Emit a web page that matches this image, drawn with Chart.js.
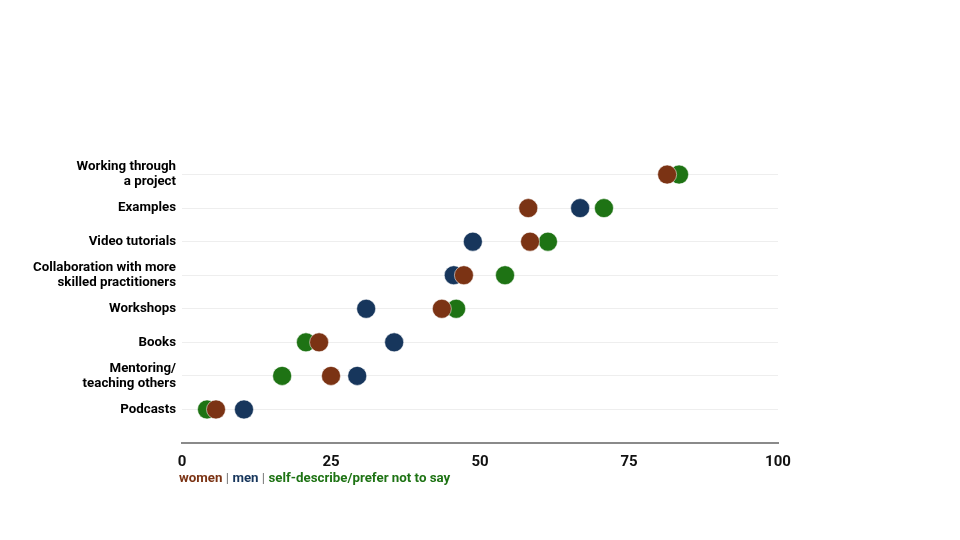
<!DOCTYPE html>
<html>
<head>
<meta charset="utf-8">
<script src="https://cdn.jsdelivr.net/npm/chart.js@4.4.1/dist/chart.umd.min.js"></script>
<style>
  html, body { margin: 0; padding: 0; background: #fff; }
  #wrap { position: relative; width: 960px; height: 540px; }
  #legend {
    position: absolute; left: 179px; top: 470px;
    font: bold 13.3px Roboto, sans-serif; color: #888;
  }
  #legend .w { color: #7b3314; }
  #legend .m { color: #17365c; }
  #legend .s { color: #1e7314; }
</style>
</head>
<body>
<div id="wrap">
  <canvas id="grafico" width="960" height="540"></canvas>
  <div id="legend"><span class="w">women</span> | <span class="m">men</span> | <span class="s">self-describe/prefer not to say</span></div>
</div>
<script>
// ============ DATOS ============
const categorias = [
    ['Working through', 'a project'],
    'Examples',
    'Video tutorials',
    ['Collaboration with more', 'skilled practitioners'],
    'Workshops',
    'Books',
    ['Mentoring/', 'teaching others'],
    'Podcasts'
];
const mujeres = [81.4, 58.1, 58.4, 47.3, 43.6, 23.0, 25.0, 5.7];
// men: no visible point in the first row
const hombres = [null, 66.8, 48.8, 45.6, 30.9, 35.6, 29.4, 10.4];
const otros   = [83.4, 70.8, 61.4, 54.2, 46.0, 20.8, 16.8, 4.2];
const ticksX = [0, 25, 50, 75, 100];

const colores = { mujeres: '#7b3314', hombres: '#17365c', otros: '#1e7314' };

function puntos(valores) {
    const out = [];
    valores.forEach((v, i) => { if (v !== null) out.push({ x: v, y: i + 1 }); });
    return out;
}

function serie(label, valores, color) {
    return {
        label: label,
        data: puntos(valores),
        backgroundColor: color,
        borderColor: 'rgba(255,255,255,0.7)',
        borderWidth: 0.75,
        pointRadius: 9.5,
        pointHoverRadius: 9.5
    };
}

const ctx = document.getElementById('grafico').getContext('2d');
const chart = new Chart(ctx, {
    type: 'scatter',
    data: {
        // el primer dataset se dibuja encima
        datasets: [
            serie('women', mujeres, colores.mujeres),
            serie('men', hombres, colores.hombres),
            serie('self-describe/prefer not to say', otros, colores.otros)
        ]
    },
    options: {
        responsive: false,
        animation: false,
        layout: { padding: { top: 141, right: 182, bottom: 0, left: 0 } },
        plugins: { legend: { display: false }, tooltip: { enabled: false } },
        scales: {
            x: {
                type: 'linear',
                min: 0,
                max: 100,
                afterBuildTicks: (scale) => { scale.ticks = ticksX.map(v => ({ value: v })); },
                afterFit: (scale) => { scale.height = 97; },
                grid: { display: false, drawTicks: false },
                border: { display: true, color: '#8a8a8a', width: 2 },
                ticks: {
                    autoSkip: false,
                    maxRotation: 0,
                    padding: 10,
                    color: '#111',
                    font: { family: 'Roboto', weight: 'bold', size: 15 }
                }
            },
            y: {
                type: 'linear',
                reverse: true,
                min: 0,
                max: 9,
                afterBuildTicks: (scale) => {
                    scale.ticks = categorias.map((c, i) => ({ value: i + 1 }));
                },
                afterFit: (scale) => { scale.width = 182; },
                grid: { color: '#eeeeee', lineWidth: 1, drawTicks: false },
                border: { display: false },
                ticks: {
                    autoSkip: false,
                    padding: 6,
                    color: '#000',
                    font: { family: 'Roboto', weight: 'bold', size: 13.3, lineHeight: 1.13 },
                    callback: (v) => categorias[v - 1]
                }
            }
        }
    }
});
</script>
</body>
</html>
